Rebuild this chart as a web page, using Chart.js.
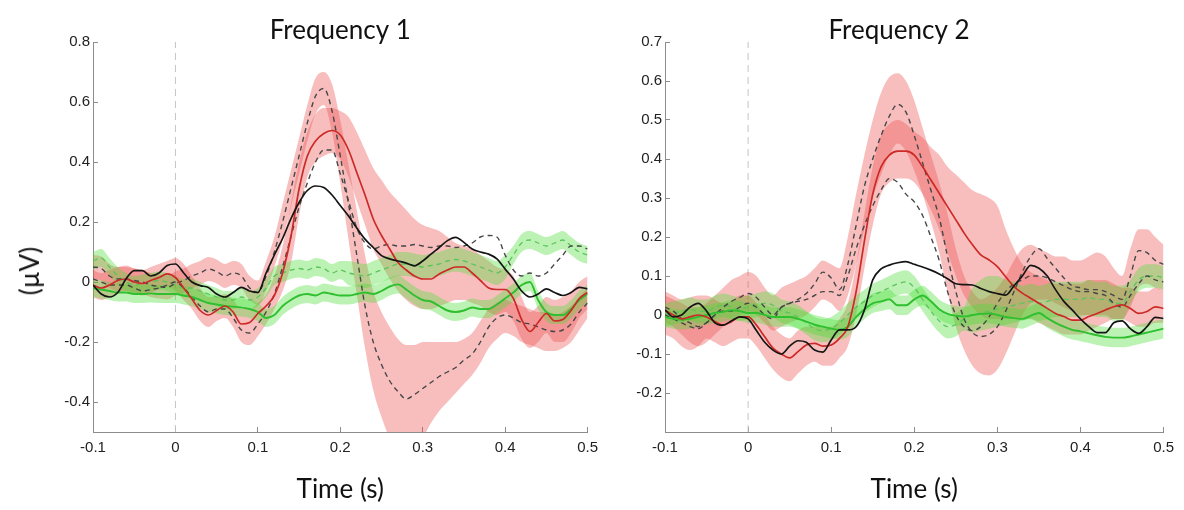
<!DOCTYPE html>
<html><head><meta charset="utf-8">
<script src="https://cdn.jsdelivr.net/npm/chart.js@4.4.1/dist/chart.umd.min.js"></script>
<style>
html,body{margin:0;padding:0;background:#fff;}
#wrap{position:relative;width:1184px;height:510px;overflow:hidden;background:#fff;}
#c1{position:absolute;left:0;top:0;}
#c2{position:absolute;left:610px;top:0;}
#ylab{position:absolute;left:29px;top:271px;transform:translate(-50%,-50%) rotate(-90deg);
  font-family:Lato,'Open Sans',sans-serif;font-size:26px;color:#111;white-space:nowrap;line-height:1;}
</style></head><body>
<div id="wrap"><canvas id="c1" width="610" height="510"></canvas><canvas id="c2" width="576" height="510"></canvas><div id="ylab"></div></div>
<script>
// ---- shared axis data ----
const times = [-0.10,-0.09,-0.08,-0.07,-0.06,-0.05,-0.04,-0.03,-0.02,-0.01,0.00,
0.01,0.02,0.03,0.04,0.05,0.06,0.07,0.08,0.09,0.10,
0.11,0.12,0.13,0.14,0.15,0.16,0.17,0.18,0.19,0.20,
0.21,0.22,0.23,0.24,0.25,0.26,0.27,0.28,0.29,0.30,
0.31,0.32,0.33,0.34,0.35,0.36,0.37,0.38,0.39,0.40,
0.41,0.42,0.43,0.44,0.45,0.46,0.47,0.48,0.49,0.50];
const xTicks = [-0.1,0,0.1,0.2,0.3,0.4,0.5];
const xRange = [-0.1,0.5];
const p1YTicks = [-0.4,-0.2,0,0.2,0.4,0.6,0.8];
const p1YRange = [-0.5,0.8];
const p2YTicks = [-0.2,-0.1,0,0.1,0.2,0.3,0.4,0.5,0.6,0.7];
const p2YRange = [-0.3,0.7];
const panelTitles = ['Frequency 1','Frequency 2'];
const xTitle = 'Time (s)';
const yTitle = '(\u00b5V)';

// ---- Panel 1 (Frequency 1) ----
const p1Red = [-0.01,-0.02,-0.01,0.005,0.01,0.0,-0.005,0.005,0.015,0.027,0.015,
-0.02,-0.057,-0.095,-0.11,-0.095,-0.08,-0.1,-0.14,-0.135,-0.105,
-0.08,-0.045,0.03,0.15,0.31,0.42,0.47,0.495,0.505,0.49,
0.44,0.365,0.29,0.21,0.155,0.11,0.065,0.04,0.02,0.01,
0.01,0.027,0.04,0.05,0.05,0.03,0.005,-0.02,-0.025,-0.025,
-0.055,-0.125,-0.165,-0.135,-0.105,-0.13,-0.125,-0.095,-0.055,-0.035];
const p1Black = [-0.01,-0.04,-0.05,-0.035,0.01,0.038,0.038,0.02,0.03,0.055,0.06,
0.03,0.0,-0.012,-0.018,-0.04,-0.05,-0.035,-0.018,-0.03,-0.035,
0.03,0.09,0.145,0.21,0.265,0.305,0.32,0.315,0.29,0.255,
0.22,0.18,0.143,0.115,0.088,0.077,0.07,0.063,0.054,0.07,
0.093,0.115,0.138,0.149,0.132,0.11,0.1,0.093,0.077,0.043,
0.01,-0.03,-0.05,-0.04,-0.023,-0.035,-0.045,-0.035,-0.018,-0.023];
const p1DashA = [0.05,0.045,0.02,0.01,0.01,0.005,0.0,-0.01,-0.015,-0.018,-0.005,
0.005,0.02,0.03,0.043,0.035,0.02,0.03,0.02,-0.02,-0.035,
0.02,0.1,0.2,0.31,0.42,0.53,0.62,0.645,0.57,0.42,
0.26,0.09,-0.08,-0.2,-0.275,-0.33,-0.365,-0.39,-0.375,-0.355,
-0.335,-0.315,-0.3,-0.285,-0.26,-0.24,-0.2,-0.15,-0.12,-0.11,
-0.12,-0.135,-0.14,-0.15,-0.16,-0.165,-0.16,-0.14,-0.1,-0.07];
const p1DashB = [0.01,0.0,-0.01,-0.01,-0.01,-0.02,-0.03,-0.025,-0.02,-0.01,0.0,
-0.02,-0.05,-0.08,-0.1,-0.09,-0.09,-0.12,-0.16,-0.17,-0.14,
-0.1,-0.04,0.05,0.15,0.25,0.33,0.4,0.44,0.44,0.36,
0.27,0.18,0.13,0.11,0.12,0.125,0.12,0.12,0.125,0.12,
0.115,0.12,0.12,0.115,0.12,0.13,0.15,0.155,0.15,0.09,
0.04,0.02,0.03,0.02,0.03,0.06,0.09,0.12,0.12,0.11];
const p1Green = [-0.02,-0.025,-0.03,-0.035,-0.035,-0.04,-0.04,-0.038,-0.04,-0.04,-0.04,
-0.045,-0.05,-0.06,-0.07,-0.075,-0.08,-0.082,-0.085,-0.09,-0.1,
-0.12,-0.11,-0.08,-0.06,-0.045,-0.04,-0.045,-0.035,-0.04,-0.045,
-0.045,-0.04,-0.035,-0.04,-0.03,-0.015,-0.008,-0.025,-0.045,-0.06,
-0.065,-0.08,-0.095,-0.1,-0.095,-0.085,-0.09,-0.09,-0.075,-0.055,
-0.035,-0.01,0.0,-0.06,-0.1,-0.11,-0.11,-0.09,-0.06,-0.04];
const p1GreenDash = [0.07,0.08,0.05,0.02,0.0,-0.01,-0.005,0.0,0.005,0.0,-0.01,
-0.02,-0.02,-0.03,-0.04,-0.05,-0.06,-0.06,-0.05,-0.06,-0.05,
-0.02,0.02,0.03,0.04,0.045,0.04,0.05,0.045,0.03,0.04,
0.03,0.025,0.02,0.03,0.04,0.05,0.06,0.06,0.055,0.05,
0.055,0.06,0.07,0.075,0.07,0.06,0.05,0.04,0.03,0.05,
0.09,0.13,0.14,0.13,0.12,0.13,0.14,0.12,0.1,0.09];
const p1PinkALo = [-0.05,-0.06,-0.05,-0.035,-0.03,-0.04,-0.045,-0.035,-0.025,-0.015,-0.03,
-0.06,-0.09,-0.13,-0.15,-0.13,-0.12,-0.15,-0.2,-0.21,-0.18,
-0.14,-0.09,-0.03,0.06,0.22,0.35,0.4,0.42,0.43,0.41,
0.35,0.27,0.19,0.11,0.06,0.01,-0.03,-0.06,-0.08,-0.09,
-0.09,-0.08,-0.07,-0.06,-0.06,-0.07,-0.08,-0.1,-0.11,-0.1,
-0.13,-0.19,-0.22,-0.2,-0.17,-0.2,-0.2,-0.17,-0.12,-0.09];
const p1PinkAHi = [0.04,0.03,0.04,0.05,0.055,0.045,0.04,0.05,0.06,0.07,0.08,
0.06,0.02,-0.02,-0.05,-0.05,-0.04,-0.06,-0.09,-0.09,-0.07,
-0.04,0.02,0.12,0.26,0.4,0.5,0.56,0.58,0.58,0.57,
0.55,0.5,0.44,0.38,0.34,0.3,0.27,0.24,0.21,0.19,
0.18,0.17,0.15,0.13,0.12,0.11,0.09,0.07,0.05,0.04,
0.02,-0.05,-0.1,-0.08,-0.05,-0.06,-0.05,-0.03,0.0,0.02];
const p1PinkBLo = [0.01,0.005,-0.02,-0.03,-0.03,-0.035,-0.04,-0.05,-0.055,-0.058,-0.045,
-0.035,-0.02,-0.01,0.003,-0.005,-0.02,-0.01,-0.02,-0.06,-0.075,
-0.03,0.05,0.14,0.25,0.36,0.47,0.56,0.59,0.5,0.33,
0.14,-0.04,-0.22,-0.36,-0.45,-0.52,-0.55,-0.56,-0.55,-0.52,
-0.47,-0.43,-0.4,-0.37,-0.34,-0.31,-0.27,-0.22,-0.19,-0.17,
-0.18,-0.2,-0.21,-0.22,-0.23,-0.23,-0.22,-0.2,-0.16,-0.12];
const p1PinkBHi = [0.09,0.085,0.06,0.05,0.05,0.045,0.04,0.03,0.025,0.022,0.035,
0.045,0.06,0.07,0.083,0.075,0.06,0.07,0.06,0.02,0.005,
0.07,0.15,0.26,0.37,0.48,0.59,0.68,0.7,0.66,0.54,
0.39,0.24,0.09,-0.03,-0.1,-0.15,-0.19,-0.21,-0.21,-0.2,
-0.2,-0.2,-0.2,-0.2,-0.19,-0.17,-0.13,-0.09,-0.07,-0.06,
-0.07,-0.08,-0.09,-0.1,-0.1,-0.11,-0.1,-0.08,-0.05,-0.02];
const p1GreenLo = [-0.05,-0.055,-0.06,-0.065,-0.065,-0.07,-0.07,-0.068,-0.07,-0.07,-0.07,
-0.075,-0.08,-0.09,-0.1,-0.105,-0.11,-0.112,-0.115,-0.12,-0.13,
-0.15,-0.14,-0.11,-0.09,-0.075,-0.07,-0.075,-0.065,-0.07,-0.075,
-0.075,-0.07,-0.065,-0.07,-0.06,-0.045,-0.038,-0.055,-0.075,-0.09,
-0.095,-0.11,-0.125,-0.13,-0.125,-0.115,-0.12,-0.12,-0.105,-0.085,
-0.065,-0.04,-0.03,-0.09,-0.13,-0.14,-0.14,-0.12,-0.09,-0.07];
const p1GreenHi = [0.01,0.005,0.0,-0.005,-0.005,-0.01,-0.01,-0.008,-0.01,-0.01,-0.01,
-0.015,-0.02,-0.03,-0.04,-0.045,-0.05,-0.052,-0.055,-0.06,-0.07,
-0.09,-0.08,-0.05,-0.03,-0.015,-0.01,-0.015,-0.005,-0.01,-0.015,
-0.015,-0.01,-0.005,-0.01,0.0,0.015,0.022,0.005,-0.015,-0.03,
-0.035,-0.05,-0.065,-0.07,-0.065,-0.055,-0.06,-0.06,-0.045,-0.025,
-0.005,0.02,0.03,-0.03,-0.07,-0.08,-0.08,-0.06,-0.03,-0.01];
const p1GreenDashLo = [0.04,0.05,0.02,-0.01,-0.03,-0.04,-0.035,-0.03,-0.025,-0.03,-0.04,
-0.05,-0.05,-0.06,-0.07,-0.08,-0.09,-0.09,-0.08,-0.09,-0.08,
-0.05,-0.01,0.0,0.01,0.015,0.01,0.02,0.015,0.0,0.01,
-0.01,-0.015,-0.02,-0.01,0.0,0.01,0.02,0.02,0.015,0.01,
0.015,0.02,0.03,0.035,0.03,0.02,0.01,0.0,-0.01,0.01,
0.06,0.1,0.11,0.1,0.09,0.1,0.11,0.09,0.07,0.06];
const p1GreenDashHi = [0.1,0.11,0.08,0.05,0.03,0.02,0.025,0.03,0.035,0.03,0.02,
0.01,0.01,0.0,-0.01,-0.02,-0.03,-0.03,-0.02,-0.03,-0.02,
0.01,0.05,0.06,0.07,0.075,0.07,0.08,0.075,0.06,0.07,
0.07,0.065,0.06,0.07,0.08,0.09,0.1,0.1,0.095,0.09,
0.095,0.1,0.11,0.115,0.11,0.1,0.09,0.08,0.07,0.09,
0.12,0.16,0.17,0.16,0.15,0.16,0.17,0.15,0.13,0.12];

// ---- Panel 2 (Frequency 2) ----
const p2Red = [0.013,0.0,-0.01,-0.005,0.0,-0.005,-0.017,-0.026,-0.017,-0.005,-0.005,
-0.026,-0.056,-0.085,-0.1,-0.11,-0.094,-0.077,-0.073,-0.08,-0.077,
-0.06,-0.03,0.06,0.19,0.31,0.38,0.41,0.42,0.42,0.41,
0.38,0.346,0.312,0.278,0.244,0.21,0.18,0.154,0.141,0.124,
0.098,0.073,0.056,0.043,0.03,0.017,0.004,-0.004,-0.013,-0.013,
-0.004,0.004,0.013,0.021,0.026,0.017,0.004,0.009,0.021,0.017];
const p2Black = [0.013,-0.005,0.0,0.02,0.03,0.01,-0.02,-0.026,-0.015,-0.005,-0.01,
-0.04,-0.07,-0.09,-0.1,-0.08,-0.066,-0.07,-0.09,-0.095,-0.064,
-0.038,-0.038,-0.03,0.013,0.09,0.118,0.128,0.134,0.137,0.13,
0.123,0.115,0.105,0.093,0.08,0.078,0.077,0.068,0.06,0.055,
0.051,0.075,0.1,0.127,0.12,0.1,0.065,0.035,0.013,-0.01,
-0.03,-0.045,-0.045,-0.02,-0.015,-0.035,-0.047,-0.03,-0.006,-0.009];
const p2DashA = [0.02,0.01,-0.01,-0.02,-0.03,-0.02,0.0,0.02,0.035,0.045,0.055,
0.045,0.02,0.0,0.02,0.03,0.04,0.055,0.08,0.11,0.095,
0.065,0.13,0.23,0.33,0.4,0.46,0.51,0.54,0.52,0.46,
0.39,0.32,0.25,0.15,0.06,-0.01,-0.045,-0.055,-0.05,-0.03,
0.01,0.06,0.11,0.15,0.17,0.145,0.12,0.095,0.075,0.07,
0.065,0.065,0.06,0.05,0.04,0.1,0.165,0.16,0.14,0.13];
const p2DashB = [0.0,-0.01,-0.02,-0.03,-0.035,-0.02,0.0,0.01,0.01,0.02,0.03,
0.02,0.0,-0.01,0.02,0.03,0.035,0.04,0.05,0.06,0.06,
0.05,0.1,0.17,0.23,0.28,0.32,0.35,0.34,0.31,0.29,
0.255,0.2,0.14,0.06,0.0,-0.03,-0.04,-0.03,-0.005,0.03,
0.06,0.08,0.09,0.1,0.1,0.095,0.085,0.075,0.065,0.06,
0.06,0.055,0.05,0.03,0.02,0.05,0.08,0.1,0.09,0.085];
const p2Green = [-0.005,-0.01,-0.012,-0.01,-0.005,0.0,0.005,0.008,0.012,0.01,0.005,
0.005,0.0,-0.005,-0.005,-0.005,-0.01,-0.017,-0.025,-0.03,-0.035,
-0.038,-0.03,-0.005,0.015,0.03,0.035,0.04,0.025,0.025,0.04,
0.05,0.035,0.015,0.003,-0.002,-0.004,0.0,0.003,0.004,0.0,
-0.005,-0.008,-0.01,-0.002,0.005,-0.008,-0.02,-0.03,-0.038,-0.042,
-0.047,-0.052,-0.056,-0.058,-0.058,-0.055,-0.05,-0.045,-0.04,-0.035];
const p2GreenDash = [0.0,0.005,0.01,0.015,0.01,0.01,0.02,0.025,0.02,0.015,0.02,
0.025,0.03,0.025,0.01,0.005,-0.005,-0.02,-0.035,-0.04,-0.035,
-0.02,0.0,0.02,0.035,0.05,0.06,0.07,0.08,0.085,0.07,
0.04,0.01,-0.015,-0.03,-0.025,-0.01,0.0,0.005,0.01,0.015,
0.02,0.025,0.03,0.035,0.03,0.035,0.04,0.04,0.04,0.04,
0.045,0.04,0.04,0.03,0.03,0.06,0.09,0.1,0.1,0.095];
const p2PinkALo = [-0.05,-0.06,-0.08,-0.09,-0.08,-0.06,-0.07,-0.08,-0.07,-0.06,-0.06,
-0.08,-0.11,-0.14,-0.16,-0.17,-0.15,-0.13,-0.12,-0.13,-0.13,
-0.11,-0.08,0.0,0.12,0.23,0.31,0.34,0.35,0.35,0.34,
0.31,0.27,0.22,0.16,0.1,0.05,0.02,0.0,-0.01,-0.01,
-0.01,-0.01,-0.01,-0.01,-0.02,-0.03,-0.04,-0.05,-0.05,-0.05,
-0.04,-0.03,-0.02,-0.01,-0.01,-0.02,-0.03,-0.03,-0.02,-0.02];
const p2PinkAHi = [0.06,0.05,0.04,0.045,0.05,0.05,0.04,0.03,0.035,0.05,0.05,
0.03,0.0,-0.03,-0.05,-0.06,-0.04,-0.03,-0.03,-0.03,-0.03,
-0.01,0.03,0.13,0.26,0.38,0.46,0.49,0.5,0.49,0.47,
0.455,0.43,0.41,0.38,0.36,0.34,0.32,0.31,0.3,0.28,
0.22,0.17,0.13,0.11,0.1,0.09,0.08,0.08,0.08,0.08,
0.09,0.09,0.09,0.08,0.07,0.07,0.06,0.06,0.07,0.06];
const p2PinkBLo = [-0.02,-0.03,-0.05,-0.07,-0.08,-0.07,-0.05,-0.03,-0.01,0.0,0.01,
0.0,-0.02,-0.04,-0.03,-0.02,-0.01,0.0,0.02,0.04,0.03,
0.01,0.05,0.13,0.22,0.3,0.36,0.41,0.44,0.42,0.37,
0.31,0.24,0.16,0.06,-0.03,-0.09,-0.13,-0.15,-0.155,-0.14,
-0.1,-0.05,0.0,0.03,0.04,0.04,0.03,0.02,0.01,0.0,
0.0,0.0,0.0,-0.01,-0.01,0.02,0.07,0.08,0.07,0.06];
const p2PinkBHi = [0.05,0.04,0.03,0.02,0.02,0.03,0.05,0.07,0.09,0.1,0.11,
0.1,0.07,0.05,0.07,0.08,0.09,0.1,0.12,0.14,0.13,
0.12,0.2,0.31,0.41,0.5,0.57,0.61,0.62,0.6,0.55,
0.48,0.41,0.34,0.26,0.17,0.1,0.06,0.04,0.05,0.07,
0.1,0.14,0.17,0.18,0.17,0.16,0.15,0.15,0.14,0.14,
0.15,0.16,0.15,0.12,0.1,0.17,0.22,0.22,0.2,0.18];
const p2GreenLo = [-0.03,-0.035,-0.037,-0.035,-0.03,-0.025,-0.02,-0.017,-0.013,-0.015,-0.02,
-0.02,-0.025,-0.03,-0.03,-0.03,-0.035,-0.042,-0.05,-0.055,-0.06,
-0.063,-0.055,-0.03,-0.01,0.005,0.01,0.015,0.0,0.0,0.015,
0.025,0.01,-0.01,-0.022,-0.027,-0.029,-0.025,-0.022,-0.021,-0.025,
-0.03,-0.033,-0.035,-0.027,-0.02,-0.033,-0.045,-0.055,-0.063,-0.067,
-0.072,-0.077,-0.081,-0.083,-0.083,-0.08,-0.075,-0.07,-0.065,-0.06];
const p2GreenHi = [0.02,0.015,0.013,0.015,0.02,0.025,0.03,0.033,0.037,0.035,0.03,
0.03,0.025,0.02,0.02,0.02,0.015,0.008,0.0,-0.005,-0.01,
-0.013,-0.005,0.02,0.04,0.055,0.06,0.065,0.05,0.05,0.065,
0.075,0.06,0.04,0.028,0.023,0.021,0.025,0.028,0.029,0.025,
0.02,0.017,0.015,0.023,0.03,0.017,0.005,-0.005,-0.013,-0.017,
-0.022,-0.027,-0.031,-0.033,-0.033,-0.03,-0.025,-0.02,-0.015,-0.01];
const p2GreenDashLo = [-0.03,-0.025,-0.02,-0.015,-0.02,-0.02,-0.01,-0.005,-0.01,-0.015,-0.01,
-0.005,0.0,-0.005,-0.02,-0.025,-0.035,-0.05,-0.065,-0.07,-0.065,
-0.05,-0.03,-0.01,0.005,0.02,0.03,0.04,0.05,0.055,0.04,
0.01,-0.02,-0.045,-0.06,-0.055,-0.04,-0.045,-0.04,-0.035,-0.03,
-0.025,-0.02,-0.015,-0.01,-0.015,-0.01,-0.005,-0.005,-0.005,-0.005,
0.0,-0.005,-0.005,-0.015,-0.015,0.03,0.06,0.07,0.07,0.065];
const p2GreenDashHi = [0.03,0.035,0.04,0.045,0.04,0.04,0.05,0.055,0.05,0.045,0.05,
0.055,0.06,0.055,0.04,0.035,0.025,0.01,-0.005,-0.01,-0.005,
0.01,0.03,0.05,0.065,0.08,0.09,0.1,0.11,0.115,0.1,
0.07,0.04,0.015,0.0,0.005,0.02,0.07,0.09,0.1,0.1,
0.09,0.085,0.075,0.08,0.075,0.08,0.085,0.085,0.085,0.085,
0.09,0.085,0.085,0.075,0.075,0.09,0.12,0.13,0.13,0.125];

// ---- styling (not data) ----
const PINK = 'rgba(236,74,74,0.36)';
const GREENFILL = 'rgba(70,222,50,0.36)';
const TICKFONT = {family:"'Liberation Sans', Arial, sans-serif", size:15};
const TITLEFONT = {family:"Lato, 'Open Sans', sans-serif", size:26, weight:'normal'};
const AXISCOL = '#8c8c8c';

document.getElementById('ylab').textContent = yTitle;

function pts(vals){ return times.map((t,i)=>({x:t, y:vals[i]})); }

function buildDatasets(s, yRange){
  const ds = [];
  ds.push({data:[{x:0,y:yRange[0]},{x:0,y:yRange[1]}], borderColor:'#c4c4c4', borderWidth:1,
    borderDash:[7,5], pointRadius:0, fill:false, order:30});
  function band(lo, hi, color, order){
    const li = ds.length;
    ds.push({data:pts(lo), borderWidth:0, borderColor:'rgba(0,0,0,0)', pointRadius:0, fill:false,
      cubicInterpolationMode:'monotone', order:order});
    ds.push({data:pts(hi), borderWidth:0, borderColor:'rgba(0,0,0,0)', pointRadius:0,
      fill:{target:li}, backgroundColor:color, cubicInterpolationMode:'monotone', order:order});
  }
  band(s.pinkBLo, s.pinkBHi, PINK, 22);
  band(s.pinkALo, s.pinkAHi, PINK, 21);
  band(s.greenDashLo, s.greenDashHi, GREENFILL, 20);
  band(s.greenLo, s.greenHi, GREENFILL, 19);
  function line(vals, color, width, dash, order){
    ds.push({data:pts(vals), borderColor:color, borderWidth:width, borderDash:dash||[],
      pointRadius:0, fill:false, cubicInterpolationMode:'monotone', order:order});
  }
  line(s.greenDash, '#5cc45c', 1.3, [5,4], 6);
  line(s.dashB, '#474747', 1.4, [5,4], 5);
  line(s.dashA, '#474747', 1.4, [5,4], 4);
  line(s.green, '#2fbf2f', 1.9, null, 3);
  line(s.red, '#cc2a26', 1.7, null, 2);
  line(s.black, '#151515', 1.7, null, 1);
  return ds;
}

function makeChart(canvasId, series, yRange, yTicks, title, opt){
  return new Chart(document.getElementById(canvasId), {
    type:'line',
    data:{datasets: buildDatasets(series, yRange)},
    options:{
      responsive:false, animation:false, devicePixelRatio:1,
      layout:{padding:{left:opt.padLeft, right:0, top:0, bottom:0}},
      plugins:{
        legend:{display:false}, tooltip:{enabled:false},
        title:{display:true, text:title, fullSize:opt.titleFull, color:'#111',
          font:Object.assign({lineHeight:0.9}, TITLEFONT), padding:{top:18.6, bottom:0}}
      },
      scales:{
        x:{type:'linear', min:xRange[0], max:xRange[1],
          afterBuildTicks:(sc)=>{ sc.ticks = xTicks.map(v=>({value:v})); },
          afterFit:(sc)=>{ sc.height = 78; },
          grid:{drawOnChartArea:false, drawTicks:true, tickLength:-5, color:AXISCOL, lineWidth:1},
          border:{display:true, color:AXISCOL, width:1},
          ticks:{padding:12, color:'#222', font:TICKFONT, maxRotation:0, autoSkip:false},
          title:{display:true, text:xTitle, color:'#111', font:TITLEFONT, padding:{top:0, bottom:5}}
        },
        y:{type:'linear', min:yRange[0], max:yRange[1],
          afterBuildTicks:(sc)=>{ sc.ticks = yTicks.map(v=>({value:v})); },
          afterFit:(sc)=>{ sc.width = opt.yWidth; },
          grid:{drawOnChartArea:false, drawTicks:true, tickLength:-5, color:AXISCOL, lineWidth:1},
          border:{display:true, color:AXISCOL, width:1},
          ticks:{padding:8, color:'#222', font:TICKFONT, autoSkip:false}
        }
      }
    }
  });
}

makeChart('c1', {
  red:p1Red, black:p1Black, dashA:p1DashA, dashB:p1DashB, green:p1Green, greenDash:p1GreenDash,
  pinkALo:p1PinkALo, pinkAHi:p1PinkAHi, pinkBLo:p1PinkBLo, pinkBHi:p1PinkBHi,
  greenLo:p1GreenLo, greenHi:p1GreenHi, greenDashLo:p1GreenDashLo, greenDashHi:p1GreenDashHi
}, p1YRange, p1YTicks, panelTitles[0], {padLeft:0, yWidth:93, titleFull:false});

makeChart('c2', {
  red:p2Red, black:p2Black, dashA:p2DashA, dashB:p2DashB, green:p2Green, greenDash:p2GreenDash,
  pinkALo:p2PinkALo, pinkAHi:p2PinkAHi, pinkBLo:p2PinkBLo, pinkBHi:p2PinkBHi,
  greenLo:p2GreenLo, greenHi:p2GreenHi, greenDashLo:p2GreenDashLo, greenDashHi:p2GreenDashHi
}, p2YRange, p2YTicks, panelTitles[1], {padLeft:2, yWidth:53, titleFull:true});
</script>
</body></html>
